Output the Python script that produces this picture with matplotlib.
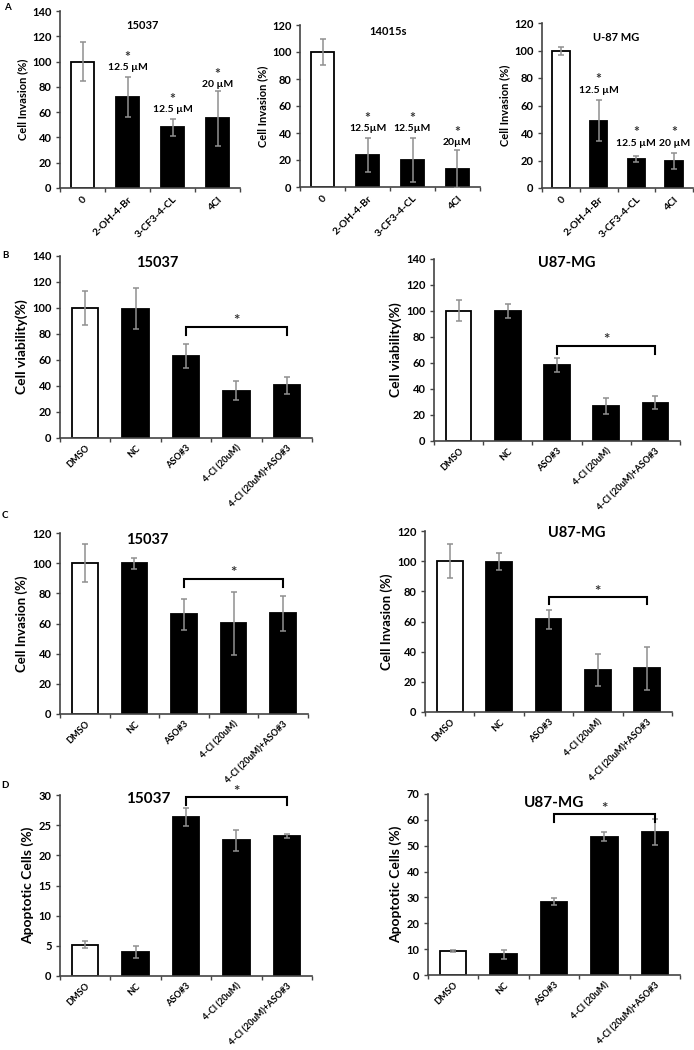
import matplotlib
matplotlib.use("Agg")
import matplotlib.pyplot as plt
from matplotlib.ticker import FixedLocator

plt.rcParams['font.family'] = ['Lato', 'DejaVu Sans']
plt.rcParams['font.weight'] = 'bold'

W, H = 694, 1050

# ---------------- DATA ----------------
cats_a = ["0", "2-OH-4-Br", "3-CF3-4-CL", "4Cl"]
a1_vals = [100, 72, 48, 55]
a1_errs = [15.5, 15.5, 6.5, 21.5]
a2_vals = [100, 23.5, 20, 13.5]
a2_errs = [9.5, 12.5, 16.5, 14]
a3_vals = [99.5, 49, 21, 19.5]
a3_errs = [3, 15, 2.3, 6]
a1_notes = ["", "12.5 \u00b5M", "12.5 \u00b5M", "20 \u00b5M"]
a2_notes = ["", "12.5\u00b5M", "12.5\u00b5M", "20\u00b5M"]
a3_notes = ["", "12.5 \u00b5M", "12.5 \u00b5M", "20 \u00b5M"]
a1_star_y = [None, 103.6, 70.4, 90]
a2_star_y = [None, 51, 51, 40.7]
a3_star_y = [None, 79.3, 40.7, 40.7]

cats_b = ["DMSO", "NC", "ASO#3", "4-Cl (20uM)", "4-Cl (20uM)+ASO#3"]
b1_vals = [100, 99.5, 63, 36.3, 40.4]
b1_errs = [13, 16, 9.2, 7.2, 6.5]
b2_vals = [100.3, 100, 58.5, 26.7, 29.5]
b2_errs = [8.3, 5.5, 5.2, 6, 4.9]
c1_vals = [100, 99.8, 66.1, 60.1, 66.8]
c1_errs = [12.5, 3.7, 10.1, 21, 11.5]
c2_vals = [100.2, 99.7, 61.5, 28, 28.9]
c2_errs = [11.2, 5.8, 6.3, 10.6, 14.3]
d1_vals = [5.2, 4.0, 26.35, 22.5, 23.15]
d1_errs = [0.6, 1.0, 1.5, 1.75, 0.35]
d2_vals = [9.3, 8.0, 28.4, 53.5, 55.3]
d2_errs = [0.45, 1.7, 1.25, 1.75, 5.05]

fills_a = ["white", "black", "black", "black"]
fills_b = ["white", "black", "black", "black", "black"]

fig = plt.figure(figsize=(W / 100, H / 100), dpi=100)

GRAY = "#909090"
SPINE = "#444444"


def make_ax(x0, y0, x1, y1):
    return fig.add_axes([x0 / W, 1 - y1 / H, (x1 - x0) / W, (y1 - y0) / H])


def panel(rect, cats, vals, errs, fills, ylim, ystep, title, txy, tsize,
          ylabel, ylsize, ticksize=8, xticksize=6.6, width=0.52, xpad=4):
    ax = make_ax(*rect)
    n = len(cats)
    xs = list(range(n))
    ax.bar(xs, vals, width=width, color=fills, edgecolor="black", linewidth=1.3, zorder=2)
    ax.errorbar(xs, vals, yerr=errs, fmt="none", ecolor=GRAY, elinewidth=1.1,
                capsize=2.2, capthick=1.1, zorder=3)
    ax.set_xlim(-0.5, n - 0.5)
    ax.set_ylim(*ylim)
    ax.set_yticks(list(range(ylim[0], ylim[1] + 1, ystep)))
    ax.set_xticks(xs)
    ax.set_xticklabels(cats, rotation=45, ha="right", rotation_mode="anchor",
                       fontsize=xticksize, fontweight="bold")
    ax.xaxis.set_minor_locator(FixedLocator([i + 0.5 for i in range(-1, n)]))
    ax.tick_params(axis="x", which="major", length=0, pad=xpad)
    ax.tick_params(axis="x", which="minor", length=3, direction="out", color=SPINE, width=1)
    ax.tick_params(axis="y", length=3, direction="out", color=SPINE, width=1,
                   labelsize=ticksize, pad=3)
    for lab in ax.get_yticklabels():
        lab.set_fontweight("bold")
    for s in ["top", "right"]:
        ax.spines[s].set_visible(False)
    for s in ["left", "bottom"]:
        ax.spines[s].set_color(SPINE)
        ax.spines[s].set_linewidth(1.2)
    ax.set_ylabel(ylabel, fontsize=ylsize, fontweight="bold", labelpad=3)
    ax.text(txy[0], txy[1], title, transform=ax.transAxes, ha="center", va="center",
            fontsize=tsize, fontweight="bold")
    return ax


def notes(ax, star_y, texts, gap, size=7.5):
    for i, (sy, t) in enumerate(zip(star_y, texts)):
        if sy is None:
            continue
        ax.text(i, sy, "*", ha="center", va="center", fontsize=10, fontweight="bold",
                color="#333333")
        ax.text(i, sy - gap, t, ha="center", va="center", fontsize=size, fontweight="bold")


def bracket(ax, i0, i1, y, drop, sy):
    ax.plot([i0, i0, i1, i1], [y - drop, y, y, y - drop], color="black", lw=1.5,
            solid_joinstyle="miter", zorder=4)
    ax.text((i0 + i1) / 2, sy, "*", ha="center", va="center", fontsize=11,
            fontweight="bold", color="#333333")


# ---------------- Row A ----------------
axA1 = panel((60, 11, 240, 188), cats_a, a1_vals, a1_errs, fills_a, (0, 140), 20,
             "15037", (0.46, 0.92), 8, "Cell Invasion (%)", 8, xticksize=7.5, xpad=5)
notes(axA1, a1_star_y, a1_notes, 8.5)
axA2 = panel((300, 25, 480, 187), cats_a, a2_vals, a2_errs, fills_a, (0, 120), 20,
             "14015s", (0.49, 0.957), 8, "Cell Invasion (%)", 8, xticksize=7.5, xpad=5)
notes(axA2, a2_star_y, a2_notes, 7.4)
axA3 = panel((542, 23, 693, 188), cats_a, a3_vals, a3_errs, fills_a, (0, 120), 20,
             "U-87 MG", (0.49, 0.91), 8, "Cell Invasion (%)", 8, width=0.47,
             xticksize=7.5, xpad=5)
notes(axA3, a3_star_y, a3_notes, 8.7)

# ---------------- Row B ----------------
axB1 = panel((60, 256, 312, 438), cats_b, b1_vals, b1_errs, fills_b, (0, 140), 20,
             "15037", (0.385, 0.96), 10.5, "Cell viability(%)", 10)
bracket(axB1, 2, 4, 85.7, 6.4, 89.8)
axB2 = panel((434, 259, 680, 441), cats_b, b2_vals, b2_errs, fills_b, (0, 140), 20,
             "U87-MG", (0.54, 0.98), 10.5, "Cell viability(%)", 10)
bracket(axB2, 2, 4, 73.3, 6.3, 77.5)

# ---------------- Row C ----------------
axC1 = panel((60, 533, 308, 714), cats_b, c1_vals, c1_errs, fills_b, (0, 120), 20,
             "15037", (0.35, 0.96), 10.5, "Cell Invasion (%)", 9.5)
bracket(axC1, 2, 4, 89.6, 5.1, 93.2)
axC2 = panel((425, 531, 672, 712), cats_b, c2_vals, c2_errs, fills_b, (0, 120), 20,
             "U87-MG", (0.615, 0.99), 10.5, "Cell Invasion (%)", 9.5)
bracket(axC2, 2, 4, 76.5, 5.2, 79.8)

# ---------------- Row D ----------------
axD1 = panel((60, 795, 312, 976), cats_b, d1_vals, d1_errs, fills_b, (0, 30), 5,
             "15037", (0.35, 0.98), 11, "Apoptotic Cells (%)", 10)
bracket(axD1, 2, 4, 29.67, 1.37, 30.5)
axD2 = panel((428, 794, 680, 975), cats_b, d2_vals, d2_errs, fills_b, (0, 70), 10,
             "U87-MG", (0.50, 0.95), 11, "Apoptotic Cells (%)", 10)
bracket(axD2, 2, 4, 62.25, 3.15, 64.2)

# panel letters
for letter, (px, py) in zip("ABCD", [(7, 7), (5, 256), (5, 516), (5, 786)]):
    fig.text(px / W, 1 - py / H, letter, ha="center", va="center", fontsize=7,
             fontweight="bold")

fig.savefig("out.png", dpi=100, facecolor="white")
